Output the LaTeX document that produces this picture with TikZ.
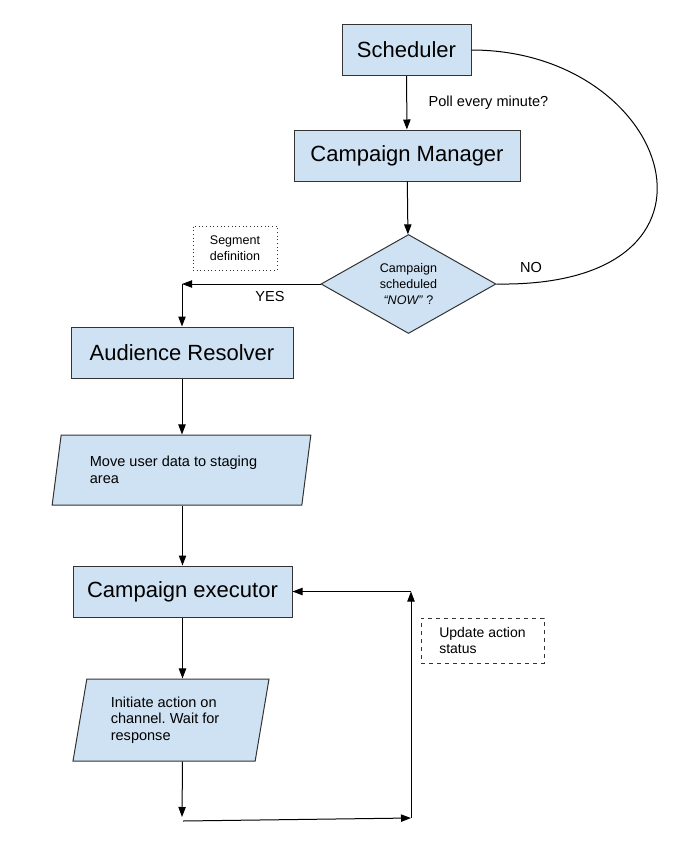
\documentclass[tikz,border=0pt]{standalone}
\usepackage{fontspec}
\setmainfont{Liberation Sans}
\usetikzlibrary{shapes.geometric,arrows.meta}
\definecolor{boxblue}{HTML}{CFE2F3}
\definecolor{boxline}{HTML}{333333}
\frenchspacing

\tikzset{
  procbox/.style={draw=boxline, fill=boxblue, line width=0.75pt, minimum height=38.25pt, font=\fontsize{16.5}{20}\selectfont},
  iobox/.style={trapezium, trapezium left angle=76, trapezium right angle=104, trapezium stretches body, draw=boxline, fill=boxblue, line width=0.75pt, align=left, font=\fontsize{10.9}{12.4}\selectfont},
  notebox/.style={draw=boxline, line width=0.75pt, align=left},
  flow/.style={line width=0.75pt, -{Triangle[length=7.5pt,width=5.5pt]}},
  lbl/.style={font=\fontsize{10.9}{12.4}\selectfont},
}

\begin{document}
\begin{tikzpicture}[x=0.75pt, y=-0.75pt]
        \useasboundingbox[fill=white] (0,0) rectangle (688,847);
        \node[procbox, minimum width=96.75pt] (sched) at (406.5,50) {Scheduler};
        \node[procbox, minimum width=169.5pt] (cm) at (407,155.5) {Campaign Manager};
        \node[diamond, aspect=1.77, inner sep=0pt, minimum width=131.25pt, minimum height=74.25pt,
              draw=boxline, fill=boxblue, line width=0.75pt, align=center,
              font=\fontsize{9.4}{12}\selectfont] (dia) at (408.5,284) {Campaign\\scheduled\\\textit{“NOW”} ?};
        \node[notebox, dotted, minimum width=63pt, minimum height=33pt,
              font=\fontsize{9.4}{12}\selectfont] (segdef) at (235,248) {Segment\\definition};
        \node[procbox, minimum width=166.5pt] (ar) at (182,352.5) {Audience Resolver};
        \node[iobox, minimum width=194pt, minimum height=52.5pt] (move) at (181.5,470) {Move user data to staging\hspace*{1.1em}\\area};
        \node[procbox, minimum width=164.25pt] (ce) at (182.5,591.5) {Campaign executor};
        \node[iobox, minimum width=147pt, minimum height=61.5pt] (init) at (171,720) {Initiate action on\hspace*{1em}\\channel. Wait for\\response};
        \node[notebox, dashed, minimum width=92.25pt, minimum height=33.75pt,
              font=\fontsize{10.5}{12.2}\selectfont] (upd) at (482.5,640.5) {Update action\\status};

        \node[lbl, anchor=west] (poll) at (424,103) {Poll every minute?};
        \node[lbl] (no) at (531,267) {NO};
        \node[lbl] (yes) at (270,296) {YES};

        \coordinate (yesTurn) at (ar.north |- dia.west);
        \coordinate (loopBL) at (182,817);
        \coordinate (loopStart) at (183,821);
        \coordinate (loopBR) at (411,818);
        \coordinate (loopTR) at (411,591.5);

        \draw[flow] (sched) -- (cm);
        \draw[flow] (cm) -- (dia);
        \draw[line width=0.75pt] (sched.east) .. controls (672,50) and (752,288) .. (dia.east);
        \draw[flow] (dia.west) -- (yesTurn);
        \draw[flow] (yesTurn) -- (ar.north);
        \draw[flow] (ar.south) -- (ar.south |- move.north);
        \draw[flow] (ce.north |- move.south) -- (ce.north);
        \draw[flow] (ce.south) -- (ce.south |- init.north);
        \draw[flow] (ce.south |- init.south) -- (loopBL);
        \draw[flow] (loopStart) -- (loopBR);
        \draw[flow] (loopBR) -- (loopTR);
        \draw[flow] (loopTR) -- (ce.east);
      \end{tikzpicture}
\end{document}
